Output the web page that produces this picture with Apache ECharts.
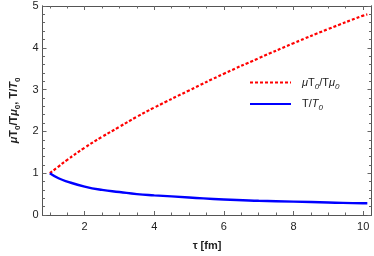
<!DOCTYPE html>
<html><head><meta charset="utf-8">
<script src="https://cdn.jsdelivr.net/npm/echarts@6/dist/echarts.min.js"></script>
<style>html,body{margin:0;padding:0;background:#fff}#c{width:374px;height:256px}</style>
</head><body><div id="c"></div>
<script>
// data
const tau      = [1.0, 1.25, 1.5, 2.0, 2.5, 3.0, 3.5, 4.0, 5.0, 6.0, 7.0, 8.0, 9.0, 10.0, 10.12];
const muRatio  = [1.0, 1.16, 1.32, 1.61, 1.87, 2.11, 2.35, 2.57, 2.98, 3.38, 3.75, 4.11, 4.45, 4.77, 4.80];
const tRatio   = [1.0, 0.88, 0.80, 0.68, 0.60, 0.55, 0.50, 0.47, 0.42, 0.37, 0.34, 0.32, 0.30, 0.28, 0.28];
const xMajor = [2, 4, 6, 8, 10];
const xMinor = [1, 1.5, 2.5, 3, 3.5, 4.5, 5, 5.5, 6.5, 7, 7.5, 8.5, 9, 9.5, 10];
const yMajor = [0, 1, 2, 3, 4, 5];
const yMinor = [];
for (let i = 0; i <= 25; i++) { if (i % 5) yMinor.push(i / 5); }
const seriesNames = ['mu', 'T'];

const font = 'Liberation Sans, Arial, sans-serif';
const frame = '#555';
const xMin = 0.79, xMax = 10.24, yMin = 0, yMax = 5.0;

function xAx(pos, vals, len, labels) {
  return {
    type: 'value', position: pos, min: xMin, max: xMax,
    axisLine: { show: true, onZero: false, lineStyle: { color: frame, width: 1 } },
    splitLine: { show: false },
    axisTick: { show: true, inside: true, length: len, customValues: vals, lineStyle: { color: '#666', width: 1 } },
    axisLabel: { show: labels, customValues: xMajor, color: '#222', fontFamily: font, fontSize: 11, margin: 6 }
  };
}
function yAx(pos, vals, len, labels) {
  return {
    type: 'value', position: pos, min: yMin, max: yMax,
    axisLine: { show: true, onZero: false, lineStyle: { color: frame, width: 1 } },
    splitLine: { show: false },
    axisTick: { show: true, inside: true, length: len, customValues: vals, lineStyle: { color: '#666', width: 1 } },
    axisLabel: { show: labels, customValues: yMajor, color: '#222', fontFamily: font, fontSize: 11, margin: 4 }
  };
}
const xAxes = [xAx('bottom', xMajor, 4, true), xAx('bottom', xMinor, 2.5, false), xAx('top', xMajor, 4, false), xAx('top', xMinor, 2.5, false)];
xAxes[0].name = 'τ [fm]';
xAxes[0].nameLocation = 'middle';
xAxes[0].nameGap = 25;
xAxes[0].nameTextStyle = { fontFamily: font, fontSize: 11, fontWeight: 'bold', color: '#222' };
const yAxes = [yAx('left', yMajor, 4, true), yAx('left', yMinor, 2.5, false), yAx('right', yMajor, 4, false), yAx('right', yMinor, 2.5, false)];
yAxes[0].name = '{i|μ}{n|T}{s|0}{n|/T}{i|μ}{s|0}{n|, T/}{i|T}{s|0}';
yAxes[0].nameLocation = 'middle';
yAxes[0].nameGap = 16;
const nb = { fontFamily: font, fontSize: 11, fontWeight: 'bold', color: '#222', lineHeight: 16, verticalAlign: 'middle' };
yAxes[0].nameTextStyle = {
  rich: {
    n: nb,
    i: Object.assign({}, nb, { fontStyle: 'italic' }),
    s: { fontFamily: font, fontSize: 8, fontWeight: 'bold', color: '#222', lineHeight: 8, verticalAlign: 'bottom' }
  }
};

const lt = { fontFamily: font, fontSize: 11, color: '#222', lineHeight: 16, verticalAlign: 'middle' };
const chart = echarts.init(document.getElementById('c'), null, { renderer: 'canvas' });
chart.setOption({
  animation: false,
  backgroundColor: '#fff',
  grid: { left: 31, top: 6, right: 2.5, bottom: 38, containLabel: false },
  xAxis: xAxes,
  yAxis: yAxes,
  legend: {
    show: true,
    orient: 'vertical', left: 244, top: 72, itemWidth: 41, itemHeight: 10, itemGap: 8,
    data: seriesNames,
    itemStyle: { opacity: 0 },
    formatter: function (n) {
      return n === 'mu' ? '{i|μ}{n|T}{s|0}{n|/T}{i|μ}{s|0}' : '{n|T/}{i|T}{s|0}';
    },
    textStyle: {
      padding: [0, 0, 0, 6],
      rich: {
        n: lt,
        i: Object.assign({}, lt, { fontStyle: 'italic' }),
        s: { fontFamily: font, fontSize: 8, color: '#222', lineHeight: 8, verticalAlign: 'bottom', fontStyle: 'italic' }
      }
    }
  },
  series: [
    { name: seriesNames[0], type: 'line', xAxisIndex: 0, yAxisIndex: 0, smooth: true, symbol: 'none',
      data: tau.map((t, i) => [t, muRatio[i]]),
      lineStyle: { color: '#ff0000', width: 2.2, type: [3, 2] }, itemStyle: { color: '#ff0000' } },
    { name: seriesNames[1], type: 'line', xAxisIndex: 0, yAxisIndex: 0, smooth: true, symbol: 'none',
      data: tau.map((t, i) => [t, tRatio[i]]),
      lineStyle: { color: '#0000ff', width: 2.4 }, itemStyle: { color: '#0000ff' } }
  ]
});
</script></body></html>
